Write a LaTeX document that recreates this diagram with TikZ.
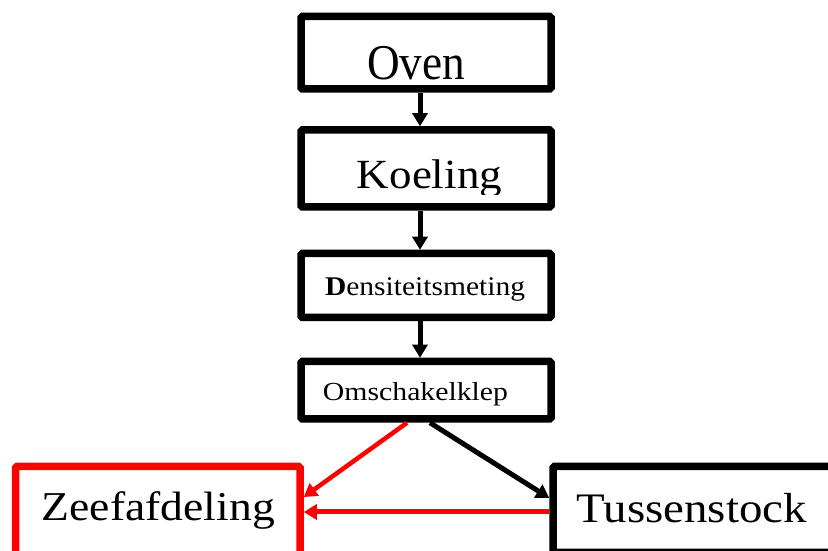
\documentclass[tikz,border=0pt]{standalone}
\usepackage{fontspec}
\usepackage{graphicx}
\setmainfont{Liberation Serif}
\usetikzlibrary{arrows.meta}
\newcommand\fitw[3]{\resizebox{#1pt}{\height}{\fontsize{#2}{#2}\selectfont #3}}
\begin{document}
\begin{tikzpicture}[x=1pt,y=1pt,
  box/.style={draw, rectangle, line width=7.5pt, rounded corners=1.5pt, inner sep=0pt, minimum width=250pt},
  lbl/.style={anchor=base, inner sep=0pt},
  flow/.style={line width=5pt, -{Triangle[width=15pt,length=13pt]}},
  thinflow/.style={line width=4.5pt, -{Triangle[width=15pt,length=13pt]}},
]
\clip (0,0) rectangle (828,551);
% boxes
\node[box, minimum height=72.5pt] (oven) at (426,498.25) {};
\node[box, minimum height=77pt] (koel) at (426,382.5) {};
\node[box, minimum height=64pt] (dens) at (426,265.5) {};
\node[box, minimum height=57.5pt] (omsch) at (426,160.75) {};
\node[box, draw=red, minimum width=284.5pt, minimum height=93.5pt] (zeef) at (157.75,37.75) {};
\node[box, minimum width=297pt, minimum height=86pt] (tuss) at (701.5,41.5) {};
% texts
\node[lbl] (toven) at (416,471) {\fitw{98}{50}{Oven}};
\begin{scope}
  \clip (305,356) rectangle (547,420);
  \node[lbl] (tkoel) at (429.5,362) {\fitw{145}{41.5}{Koeling}};
\end{scope}
\node[lbl] (tdens) at (425,255.3) {\fitw{200}{27}{\textbf{D}ensiteitsmeting}};
\node[lbl] (tomsch) at (415.5,150.3) {\fitw{185}{26}{Omschakelklep}};
\node[lbl] (tzeef) at (158.3,30.3) {\fitw{233}{41}{Zeefafdeling}};
\node[lbl] (ttuss) at (691.7,28.3) {\fitw{230}{42}{Tussenstock}};
% connectors
\draw[flow] ([xshift=-6pt]oven.south) -- ([xshift=-6pt]koel.north);
\draw[flow] ([xshift=-6pt]koel.south) -- ([xshift=-6pt]dens.north);
\draw[flow] ([xshift=-6pt]dens.south) -- ([xshift=-6pt]omsch.north);
\draw[thinflow, red] ([xshift=-19pt]omsch.south) -- ([yshift=16.25pt]zeef.east);
\draw[flow] ([xshift=4pt]omsch.south) -- ([yshift=11.5pt]tuss.west);
\draw[flow, red] ([yshift=-2.5pt]tuss.west) -- ([yshift=1.25pt]zeef.east);
\end{tikzpicture}
\end{document}
